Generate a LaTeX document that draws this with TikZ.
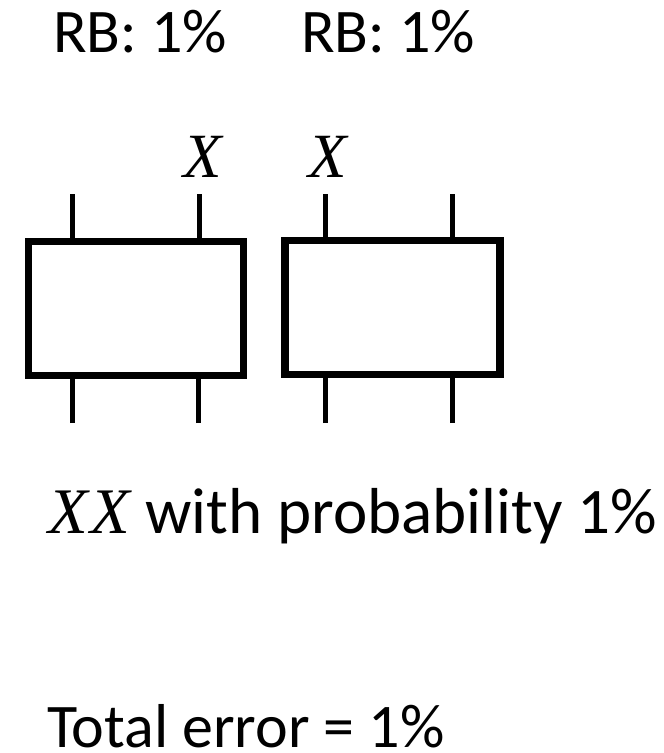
\documentclass[tikz,border=0pt]{standalone}
\usepackage{fontspec}
\setmainfont{Carlito}
\newfontfamily\xfont{Liberation Serif}
\begin{document}
\begin{tikzpicture}[x=1pt,y=-1pt,
  lbl/.style={inner sep=0pt,anchor=base west,text depth=0pt,font=\fontsize{62}{74}\selectfont},
  xlbl/.style={inner sep=0pt,anchor=base,font=\fontsize{63}{74}\selectfont\xfont\itshape},
  gatebox/.style={draw,line width=7.3pt,minimum width=215pt,minimum height=134pt,inner sep=0pt,outer sep=0pt},
  wire/.style={line width=5pt}]
\useasboundingbox (0,0) rectangle (664,753);
\node[lbl] (rb1) at (53,52) {RB: 1\%};
\node[lbl] (rb2) at (301,52) {RB: 1\%};
\node[gatebox] (b1) at (136,308.5) {};
\node[gatebox] (b2) at (392.5,307.5) {};
\coordinate (t1a) at (72.7,194);
\coordinate (t1b) at (199,194);
\coordinate (u1a) at (72.7,423);
\coordinate (u1b) at (198,423);
\coordinate (t2a) at (325.7,194);
\coordinate (t2b) at (452,194);
\coordinate (u2a) at (325.7,423);
\coordinate (u2b) at (452,423);
\foreach \c/\b in {t1a/b1,t1b/b1,u1a/b1,u1b/b1,t2a/b2,t2b/b2,u2a/b2,u2b/b2}
  \draw[wire] (\c) -- (\c |- \b.center);
\node[gatebox,fill=white] at (b1.center) {};
\node[gatebox,fill=white] at (b2.center) {};
\node[xlbl] (x1) at (203,177) {X};
\node[xlbl] (x2) at (328,177) {X};
\node[lbl,font=\fontsize{65}{78}\selectfont] (prob) at (48,533) {{\fontsize{65}{78}\selectfont\xfont\itshape X\kern3pt X}\ with probability 1\%};
\node[lbl] (tot) at (47,747) {Total error = 1\%};
\end{tikzpicture}
\end{document}
